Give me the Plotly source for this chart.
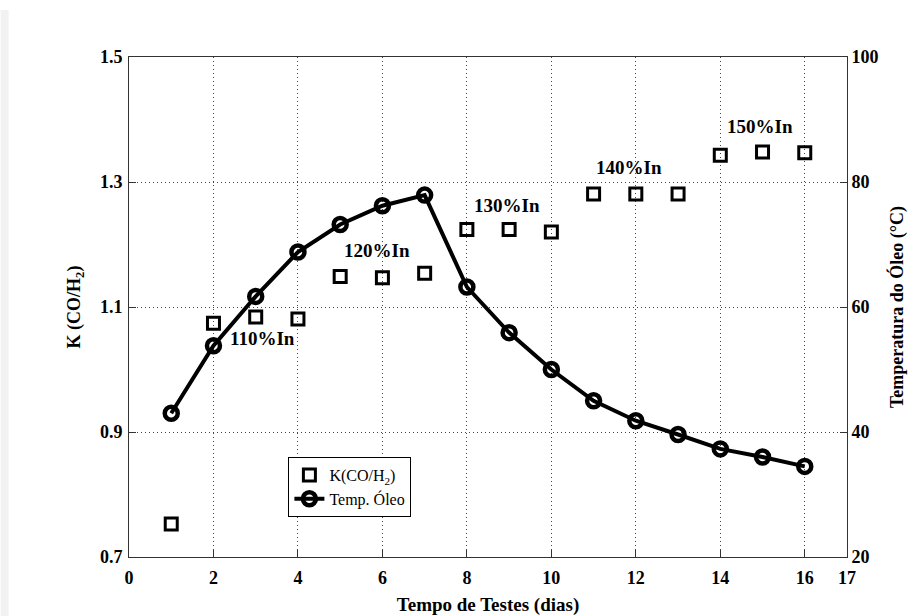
import plotly.graph_objects as go

dias = list(range(1, 17))
k_co_h2 = [0.753, 1.074, 1.084, 1.081, 1.149, 1.147, 1.154, 1.224, 1.224, 1.220,
           1.281, 1.281, 1.281, 1.343, 1.348, 1.347]
temp_oleo = [43.0, 53.8, 61.7, 68.8, 73.2, 76.2, 77.9, 63.2, 55.9, 50.0,
             45.0, 41.8, 39.6, 37.3, 36.0, 34.5]

carga_labels = ["110%In", "120%In", "130%In", "140%In", "150%In"]
carga_x = [3.15, 5.87, 8.94, 11.83, 14.93]
carga_y = [1.050, 1.190, 1.262, 1.324, 1.389]

x_ticks = [0, 2, 4, 6, 8, 10, 12, 14, 16, 17]
y_ticks = [0.7, 0.9, 1.1, 1.3, 1.5]
y2_ticks = [20, 40, 60, 80, 100]

FONT = "Liberation Serif"

fig = go.Figure()
fig.add_trace(go.Scatter(
    x=dias, y=k_co_h2, mode="markers", name="K(CO/H<sub>2</sub>)",
    marker=dict(symbol="square-open", size=12, color="black",
                line=dict(width=3, color="black")),
    yaxis="y"))
fig.add_trace(go.Scatter(
    x=dias, y=temp_oleo, mode="lines+markers", name="Temp. Óleo",
    line=dict(color="black", width=4),
    marker=dict(symbol="circle-open", size=13, color="black",
                line=dict(width=4.5, color="black")),
    yaxis="y2"))

for lab, xx, yy in zip(carga_labels, carga_x, carga_y):
    fig.add_annotation(x=xx, y=yy, xref="x", yref="y", text="<b>%s</b>" % lab,
                       showarrow=False, font=dict(family=FONT, size=19, color="black"))

# faint page edge at the left of the scanned figure
fig.add_shape(type="rect", xref="paper", yref="paper",
              x0=-128.5 / 718.5, x1=(8 - 128.5) / 718.5,
              y0=-59 / 500, y1=1 + (57 - 10) / 500,
              fillcolor="#f2f2f2", line=dict(width=0), layer="below")

GRID = "#444"
fig.update_layout(
    width=912, height=616,
    margin=dict(l=128.5, r=65, t=57, b=59),
    paper_bgcolor="white", plot_bgcolor="white",
    font=dict(family=FONT, color="black"),
    showlegend=True,
    legend=dict(x=0.222, y=0.08, xanchor="left", yanchor="bottom",
                bgcolor="white", bordercolor="black", borderwidth=1,
                font=dict(family=FONT, size=16, color="black"),
                tracegroupgap=0, itemwidth=30),
    xaxis=dict(range=[0, 17], tickvals=x_ticks,
               ticktext=["<b>%d</b>" % v for v in x_ticks],
               showline=True, linecolor="#333", linewidth=1, mirror=True,
               ticks="inside", ticklen=7, tickcolor="#333",
               showgrid=True, gridcolor=GRID, griddash="1px,3px", gridwidth=1,
               zeroline=False, tickfont=dict(size=18), ticklabelstandoff=4,
               automargin=False,
               title=dict(text="<b>Tempo de Testes (dias)</b>",
                          font=dict(size=19), standoff=14)),
    yaxis=dict(range=[0.7, 1.5], tickvals=y_ticks,
               ticktext=["<b>%.1f</b>" % v for v in y_ticks],
               showline=True, linecolor="#333", linewidth=1, mirror=False,
               ticks="inside", ticklen=7, tickcolor="#333",
               showgrid=True, gridcolor=GRID, griddash="1px,3px", gridwidth=1,
               zeroline=False, tickfont=dict(size=18), ticklabelstandoff=2,
               automargin=False,
               title=dict(text="<b>K (CO/H<sub>2</sub>)</b>",
                          font=dict(size=18), standoff=14)),
    yaxis2=dict(range=[20, 100], tickvals=y2_ticks,
                ticktext=["<b>%d</b>" % v for v in y2_ticks],
                overlaying="y", side="right",
                showline=True, linecolor="#333", linewidth=1,
                ticks="inside", ticklen=7, tickcolor="#333",
                showgrid=False, zeroline=False, tickfont=dict(size=18),
                ticklabelstandoff=0, automargin=False,
                title=dict(text="<b>Temperatura do Óleo (°C)</b>",
                           font=dict(size=18), standoff=12)),
)

fig.write_html("out.html")
